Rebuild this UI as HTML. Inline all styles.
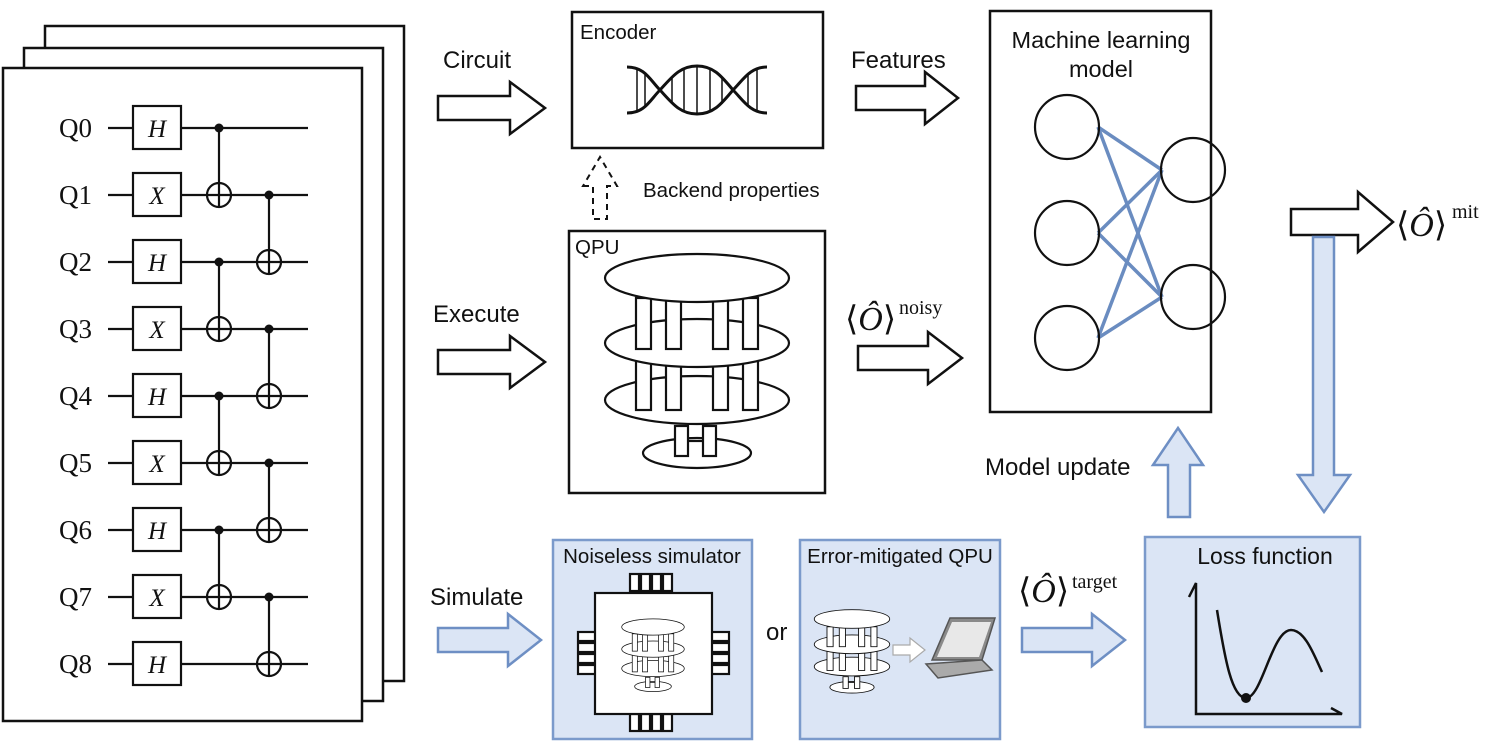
<!DOCTYPE html>
<html><head><meta charset="utf-8"><style>
html,body{margin:0;padding:0;background:#fff;}
svg{display:block;}
.s{font-family:"Liberation Sans",sans-serif;fill:#111;}
.m{font-family:"Liberation Serif",serif;fill:#111;}
</style></head><body>
<svg width="1496" height="749" viewBox="0 0 1496 749" xmlns="http://www.w3.org/2000/svg">
<defs>
<g id="qpu" stroke="#111" stroke-width="2.2" fill="#fff">
  <ellipse cx="0" cy="175" rx="54" ry="15"/>
  <rect x="-22" y="148" width="13" height="30"/><rect x="6" y="148" width="13" height="30"/>
  <line x1="-9" y1="163" x2="6" y2="163"/>
  <ellipse cx="0" cy="122" rx="92" ry="24"/>
  <rect x="-61" y="79" width="15" height="53"/><rect x="-31" y="79" width="15" height="53"/>
  <rect x="16" y="79" width="15" height="53"/><rect x="46" y="79" width="15" height="53"/>
  <ellipse cx="0" cy="65" rx="92" ry="24"/>
  <rect x="-61" y="20" width="15" height="51"/><rect x="-31" y="20" width="15" height="51"/>
  <rect x="16" y="20" width="15" height="51"/><rect x="46" y="20" width="15" height="51"/>
  <ellipse cx="0" cy="0" rx="92" ry="24"/>
</g>
</defs>

<g fill="#fff" stroke="#111" stroke-width="2.5">
<rect x="45" y="26" width="359" height="655"/>
<rect x="24" y="48" width="359" height="653"/>
<rect x="3" y="68" width="359" height="653"/>
</g>
<g stroke="#111" stroke-width="2.2" fill="none">
<line x1="108" y1="128" x2="308" y2="128"/><line x1="108" y1="195" x2="308" y2="195"/>
<line x1="108" y1="262" x2="308" y2="262"/><line x1="108" y1="329" x2="308" y2="329"/>
<line x1="108" y1="396" x2="308" y2="396"/><line x1="108" y1="463" x2="308" y2="463"/>
<line x1="108" y1="530" x2="308" y2="530"/><line x1="108" y1="597" x2="308" y2="597"/>
<line x1="108" y1="664" x2="308" y2="664"/>
<line x1="219" y1="128" x2="219" y2="207"/><line x1="219" y1="262" x2="219" y2="341"/>
<line x1="219" y1="396" x2="219" y2="475"/><line x1="219" y1="530" x2="219" y2="609"/>
<line x1="269" y1="195" x2="269" y2="274"/><line x1="269" y1="329" x2="269" y2="408"/>
<line x1="269" y1="463" x2="269" y2="542"/><line x1="269" y1="597" x2="269" y2="676"/>
<g fill="#fff">
<circle cx="219" cy="195" r="12"/><circle cx="219" cy="329" r="12"/><circle cx="219" cy="463" r="12"/><circle cx="219" cy="597" r="12"/>
<circle cx="269" cy="262" r="12"/><circle cx="269" cy="396" r="12"/><circle cx="269" cy="530" r="12"/><circle cx="269" cy="664" r="12"/>
</g>
<line x1="207" y1="195" x2="231" y2="195"/><line x1="219" y1="183" x2="219" y2="207"/>
<line x1="207" y1="329" x2="231" y2="329"/><line x1="219" y1="317" x2="219" y2="341"/>
<line x1="207" y1="463" x2="231" y2="463"/><line x1="219" y1="451" x2="219" y2="475"/>
<line x1="207" y1="597" x2="231" y2="597"/><line x1="219" y1="585" x2="219" y2="609"/>
<line x1="257" y1="262" x2="281" y2="262"/><line x1="269" y1="250" x2="269" y2="274"/>
<line x1="257" y1="396" x2="281" y2="396"/><line x1="269" y1="384" x2="269" y2="408"/>
<line x1="257" y1="530" x2="281" y2="530"/><line x1="269" y1="518" x2="269" y2="542"/>
<line x1="257" y1="664" x2="281" y2="664"/><line x1="269" y1="652" x2="269" y2="676"/>
<g fill="#fff">
<rect x="133" y="106" width="48" height="43"/><rect x="133" y="173" width="48" height="43"/>
<rect x="133" y="240" width="48" height="43"/><rect x="133" y="307" width="48" height="43"/>
<rect x="133" y="374" width="48" height="43"/><rect x="133" y="441" width="48" height="43"/>
<rect x="133" y="508" width="48" height="43"/><rect x="133" y="575" width="48" height="43"/>
<rect x="133" y="642" width="48" height="43"/>
</g>
</g>
<g fill="#111">
<circle cx="219" cy="128" r="4.5"/><circle cx="219" cy="262" r="4.5"/><circle cx="219" cy="396" r="4.5"/><circle cx="219" cy="530" r="4.5"/>
<circle cx="269" cy="195" r="4.5"/><circle cx="269" cy="329" r="4.5"/><circle cx="269" cy="463" r="4.5"/><circle cx="269" cy="597" r="4.5"/>
</g>
<g class="m" font-size="27">
<text x="59" y="137">Q0</text><text x="59" y="204">Q1</text><text x="59" y="271">Q2</text>
<text x="59" y="338">Q3</text><text x="59" y="405">Q4</text><text x="59" y="472">Q5</text>
<text x="59" y="539">Q6</text><text x="59" y="606">Q7</text><text x="59" y="673">Q8</text>
</g>
<g class="m" font-size="25" font-style="italic" text-anchor="middle">
<text x="157" y="137">H</text><text x="157" y="204">X</text><text x="157" y="271">H</text>
<text x="157" y="338">X</text><text x="157" y="405">H</text><text x="157" y="472">X</text>
<text x="157" y="539">H</text><text x="157" y="606">X</text><text x="157" y="673">H</text>
</g>

<g fill="#fff" stroke="#111" stroke-width="2.5">
<polygon points="438,96 510,96 510,82 545,108 510,134 510,120 438,120"/>
<polygon points="438,350 510,350 510,336 545,362 510,388 510,374 438,374"/>
<polygon points="856,86 925,86 925,72 958,98 925,124 925,110 856,110"/>
<polygon points="858,346 928,346 928,332 962,358 928,384 928,370 858,370"/>
<polygon points="1291,209 1358,209 1358,192 1393,222 1358,252 1358,235 1291,235"/>
</g>
<g fill="#dbe5f5" stroke="#6e8fc4" stroke-width="2.5">
<polygon points="438,628 508,628 508,614 541,640 508,666 508,652 438,652"/>
<polygon points="1022,628 1092,628 1092,614 1125,640 1092,666 1092,652 1022,652"/>
<polygon points="1168,517 1168,465 1153,465 1178,428 1203,465 1190,465 1190,517"/>
<polygon points="1313,237 1334,237 1334,475 1350,475 1324,512 1298,475 1313,475"/>
</g>

<g class="s" font-size="24">
<text x="443" y="68">Circuit</text>
<text x="433" y="322">Execute</text>
<text x="430" y="605">Simulate</text>
<text x="851" y="68">Features</text>
<text x="985" y="475">Model update</text>
<text x="766" y="640">or</text>
</g>
<text class="s" x="643" y="197" font-size="20.5">Backend properties</text>

<g class="m">
<text x="845" y="330" font-size="34">⟨<tspan font-style="italic">Ô</tspan>⟩</text><text x="899" y="314" font-size="20">noisy</text>
<text x="1018" y="602" font-size="34">⟨<tspan font-style="italic">Ô</tspan>⟩</text><text x="1072" y="588" font-size="20">target</text>
<text x="1396" y="236" font-size="34">⟨<tspan font-style="italic">Ô</tspan>⟩</text><text x="1452" y="218" font-size="20">mit</text>
</g>

<rect x="572" y="12" width="251" height="136" fill="#fff" stroke="#111" stroke-width="2.5"/>
<text class="s" x="580" y="39" font-size="20.5">Encoder</text>
<g stroke="#111" stroke-width="1.5">
<line x1="637" y1="70" x2="637" y2="111"/><line x1="645" y1="75" x2="645" y2="106"/>
<line x1="672" y1="77" x2="672" y2="104"/><line x1="684" y1="70" x2="684" y2="111"/>
<line x1="697" y1="66" x2="697" y2="114"/><line x1="710" y1="70" x2="710" y2="111"/>
<line x1="722" y1="77" x2="722" y2="104"/><line x1="748" y1="75" x2="748" y2="106"/>
<line x1="757" y1="70" x2="757" y2="111"/>
</g>
<g stroke="#111" stroke-width="3" fill="none">
<path d="M627,67 C645,67 650,80 660,90 C672,103 680,114 697,114 C714,114 722,103 733,90 C743,80 750,67 767,67"/>
<path d="M627,113 C645,113 650,100 660,90 C672,77 680,66 697,66 C714,66 722,77 733,90 C743,100 750,113 767,113"/>
</g>
<polygon points="583,186 593,186 593,219 607,219 607,186 617,186 600,157" fill="none" stroke="#111" stroke-width="2" stroke-dasharray="6,5"/>

<rect x="569" y="231" width="256" height="262" fill="#fff" stroke="#111" stroke-width="2.5"/>
<text class="s" x="575" y="254" font-size="20.5">QPU</text>
<use href="#qpu" transform="translate(697,278)"/>

<rect x="990" y="11" width="221" height="401" fill="#fff" stroke="#111" stroke-width="2.5"/>
<text class="s" x="1101" y="48" font-size="23.5" text-anchor="middle">Machine learning</text>
<text class="s" x="1101" y="77" font-size="23.5" text-anchor="middle">model</text>
<g stroke="#6a8cc0" stroke-width="3.5">
<line x1="1098" y1="127" x2="1162" y2="170"/><line x1="1098" y1="127" x2="1162" y2="297"/>
<line x1="1098" y1="233" x2="1162" y2="170"/><line x1="1098" y1="233" x2="1162" y2="297"/>
<line x1="1098" y1="338" x2="1162" y2="170"/><line x1="1098" y1="338" x2="1162" y2="297"/>
</g>
<g fill="none" stroke="#111" stroke-width="2.2">
<circle cx="1067" cy="127" r="32"/><circle cx="1067" cy="233" r="32"/><circle cx="1067" cy="338" r="32"/>
<circle cx="1193" cy="170" r="32"/><circle cx="1193" cy="297" r="32"/>
</g>

<rect x="553" y="540" width="199" height="199" fill="#dbe5f5" stroke="#7b9acb" stroke-width="2.5"/>
<text class="s" x="652" y="563" font-size="20.5" text-anchor="middle">Noiseless simulator</text>
<g fill="#fff" stroke="#111" stroke-width="2.2">
<rect x="630" y="574" width="9" height="17"/><rect x="641" y="574" width="9" height="17"/><rect x="652" y="574" width="9" height="17"/><rect x="663" y="574" width="9" height="17"/>
<rect x="630" y="714" width="9" height="17"/><rect x="641" y="714" width="9" height="17"/><rect x="652" y="714" width="9" height="17"/><rect x="663" y="714" width="9" height="17"/>
<rect x="578" y="632" width="18" height="9"/><rect x="578" y="643" width="18" height="9"/><rect x="578" y="654" width="18" height="9"/><rect x="578" y="665" width="18" height="9"/>
<rect x="711" y="632" width="18" height="9"/><rect x="711" y="643" width="18" height="9"/><rect x="711" y="654" width="18" height="9"/><rect x="711" y="665" width="18" height="9"/>
<rect x="595" y="593" width="117" height="121"/>
</g>
<use href="#qpu" transform="translate(653,627) scale(0.34,0.34)"/>

<rect x="800" y="540" width="200" height="199" fill="#dbe5f5" stroke="#7b9acb" stroke-width="2.5"/>
<text class="s" x="900" y="563" font-size="20.5" text-anchor="middle">Error-mitigated QPU</text>
<use href="#qpu" transform="translate(852,619) scale(0.41,0.39)"/>
<polygon points="893,645 910,645 910,638 925,650 910,662 910,655 893,655" fill="#fff" stroke="#aaa" stroke-width="1.2"/>
<polygon points="932,660 950,618 995,618 982,660" fill="#8a8a8a" stroke="#555" stroke-width="1.5"/>
<polygon points="937,657 952,622 991,622 979,657" fill="#e8e8e8"/>
<polygon points="926,664 982,660 992,670 938,678" fill="#aaa" stroke="#555" stroke-width="1.5"/>

<rect x="1145" y="537" width="215" height="190" fill="#dbe5f5" stroke="#7b9acb" stroke-width="2.5"/>
<text class="s" x="1265" y="564" font-size="23" text-anchor="middle">Loss function</text>
<g fill="none" stroke="#111" stroke-width="2.5">
<path d="M1189,597 L1196,583 L1196,714 L1342,714 L1331,708"/>
<path d="M1217,610 C1225,660 1232,698 1246,698 C1262,698 1272,630 1291,630 C1305,630 1314,655 1322,672"/>
</g>
<circle cx="1246" cy="698" r="5" fill="#111"/>
</svg>
</body></html>
